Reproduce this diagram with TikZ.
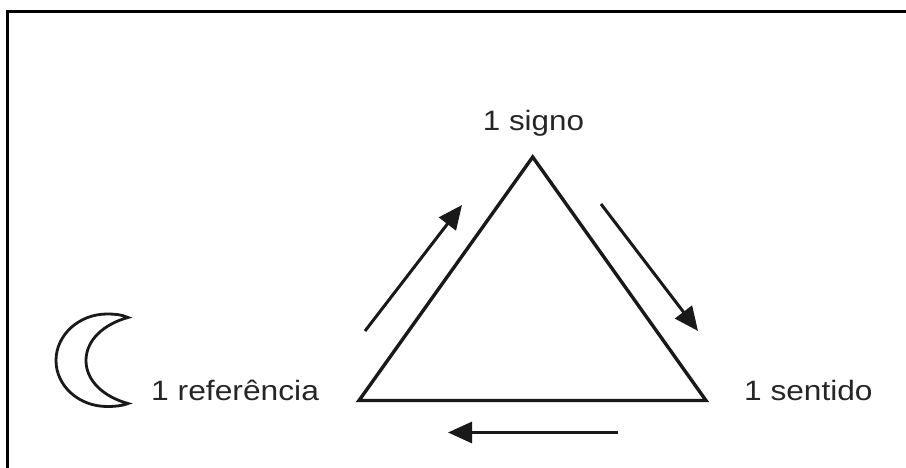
\documentclass[tikz,border=0pt]{standalone}
\usepackage{fontspec}
\usepackage{graphicx}
\setmainfont{Liberation Sans}
\usetikzlibrary{arrows.meta}
\tikzset{
  label text/.style={inner sep=0pt,text=black!85,font=\fontsize{28}{30}\selectfont},
  frame line/.style={line width=3pt,black},
  tri line/.style={line width=3.4pt,black!90,line join=miter},
  flow/.style={line width=3pt,black!90,-{Triangle[length=24pt,width=21pt]}},
  moon line/.style={line width=2.8pt,black!90,line join=miter}
}
\begin{document}
\begin{tikzpicture}[x=1pt,y=-1pt]
\useasboundingbox (0,0) rectangle (906,468);
\fill[white] (0,0) rectangle (906,468);
\draw[frame line] (7.5,468) -- (7.5,12) -- (906,12);
\coordinate (top) at (532.7,157);
\coordinate (left) at (359,400.5);
\coordinate (right) at (706,400.5);
\draw[tri line] (top) -- (right) -- (left) -- cycle;
\coordinate (a1) at (365,331); \coordinate (a2) at (462,205);
\coordinate (b1) at (601,204); \coordinate (b2) at (698,331);
\coordinate (c1) at (618,432.5); \coordinate (c2) at (448,432.5);
\draw[flow] (a1) -- (a2);
\draw[flow] (b1) -- (b2);
\draw[flow] (c1) -- (c2);
\node[label text,anchor=base] (signo) at (533.5,131) {\scalebox{1.12}[1]{1 signo}};
\node[label text,anchor=base west] (ref) at (151,400) {\scalebox{1.135}[1]{1 referência}};
\node[label text,anchor=base west] (sent) at (744,400) {\scalebox{1.13}[1]{1 sentido}};
\draw[moon line] (128,317.5) .. controls (122,314.5) and (114,314) .. (107,314)
  .. controls (79,314) and (56,335) .. (56,360.5)
  .. controls (56,386) and (79,406.5) .. (107,406.5)
  .. controls (114,406.5) and (122,406) .. (128,403.5)
  .. controls (104,397) and (86,381) .. (86,360.5)
  .. controls (86,340) and (104,324) .. (128,317.5) -- cycle;
\end{tikzpicture}
\end{document}
